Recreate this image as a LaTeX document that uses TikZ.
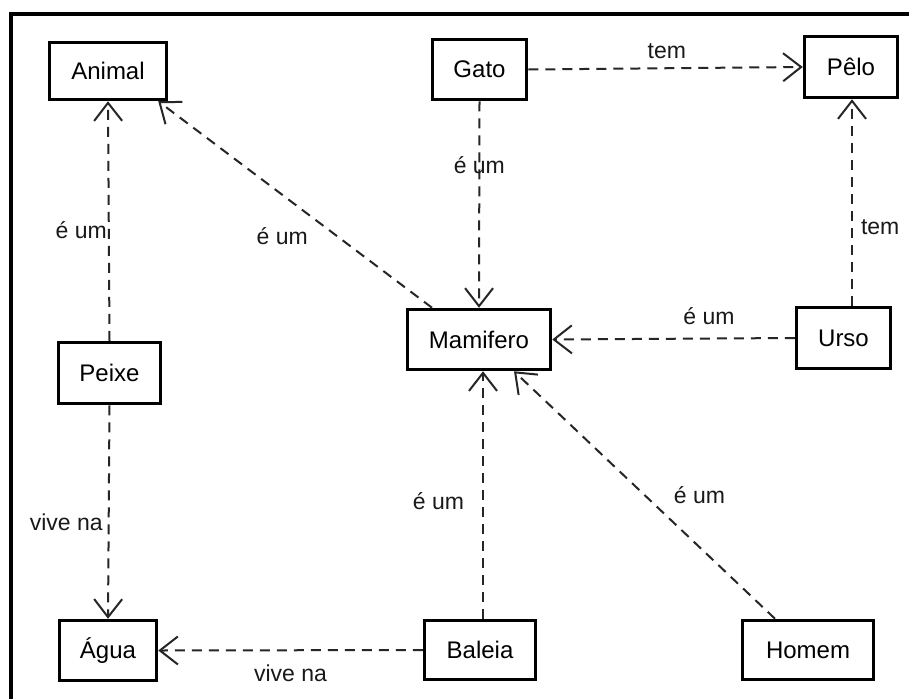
\documentclass[tikz,border=0pt]{standalone}
\usepackage{fontspec}
\setmainfont{Liberation Sans}
\usetikzlibrary{arrows.meta}

\tikzset{
  box/.style={draw=black, line width=3.5pt, fill=white, inner sep=0pt,
              font=\fontsize{24}{28}\selectfont},
  rel/.style={draw=black!85, line width=2pt, dash pattern=on 10pt off 7pt,
              -{Straight Barb[length=18pt, width=28pt, line width=2pt]}},
  lbl/.style={inner sep=0pt, font=\fontsize{23}{27}\selectfont, text=black!90}
}

\begin{document}
\begin{tikzpicture}[x=1pt, y=-1pt]
  \useasboundingbox (0,0) rectangle (909,699);
  \fill[white] (0,0) rectangle (909,699);

  % frame (top and left edges)
  \draw[line width=4pt, line join=miter] (11,699) -- (11,14) -- (909,14);

  % concepts
  \node[box, minimum width=117pt, minimum height=57pt] (animal)   at (108,71)    {Animal};
  \node[box, minimum width=94pt,  minimum height=60pt] (gato)     at (479.5,69.5) {Gato};
  \node[box, minimum width=93pt,  minimum height=61pt] (pelo)     at (851,67)    {Pêlo};
  \node[box, minimum width=143pt, minimum height=60pt] (mamifero) at (479,339.5) {Mamifero};
  \node[box, minimum width=94pt,  minimum height=61pt] (urso)     at (843.5,338) {Urso};
  \node[box, minimum width=102pt, minimum height=61pt] (peixe)    at (109.5,373) {Peixe};
  \node[box, minimum width=97pt,  minimum height=60pt] (agua)     at (108,650.5) {Água};
  \node[box, minimum width=111pt, minimum height=59pt] (baleia)   at (480,650)   {Baleia};
  \node[box, minimum width=131pt, minimum height=59pt] (homem)    at (808,650)   {Homem};

  % attachment points away from the box centres
  \coordinate (mamTopL)  at ([xshift=-47pt]mamifero.north);
  \coordinate (mamBotB)  at ([xshift=4pt]mamifero.south);
  \coordinate (mamBotR)  at ([xshift=35pt]mamifero.south);
  \coordinate (animalBR) at ([xshift=-10pt]animal.south east);
  \coordinate (ursoTop)  at ([xshift=8.5pt]urso.north);
  \coordinate (peloBot)  at ([xshift=1pt]pelo.south);
  \coordinate (baleiaTop) at ([xshift=3pt]baleia.north);
  \coordinate (homemTop) at ([xshift=-33pt]homem.north);

  % relations
  \draw[rel] (peixe.north) -- (animal.south)
    node[lbl, pos=0.46, anchor=east, xshift=-1pt] {é um};
  \draw[rel] (mamTopL) -- (animalBR)
    node[lbl, pos=0.346, xshift=-55pt] {é um};
  \draw[rel] (gato.east) -- (pelo.west)
    node[lbl, pos=0.505, yshift=17pt] {tem};
  \draw[rel] (gato.south) -- (mamifero.north)
    node[lbl, pos=0.31] {é um};
  \draw[rel] (ursoTop) -- (peloBot)
    node[lbl, pos=0.38, anchor=west, xshift=8pt] {tem};
  \draw[rel] (urso.west) -- (mamifero.east)
    node[lbl, pos=0.354, yshift=22pt] {é um};
  \draw[rel] (peixe.south) -- (agua.north)
    node[lbl, pos=0.55, anchor=east, xshift=-5pt] {vive na};
  \draw[rel] (baleiaTop) -- (mamBotB)
    node[lbl, pos=0.474, anchor=east, xshift=-18pt] {é um};
  \draw[rel] (baleia.west) -- (agua.east)
    node[lbl, pos=0.5, yshift=-23pt] {vive na};
  \draw[rel] (homemTop) -- (mamBotR)
    node[lbl, pos=0.5, xshift=55pt] {é um};
\end{tikzpicture}
\end{document}
